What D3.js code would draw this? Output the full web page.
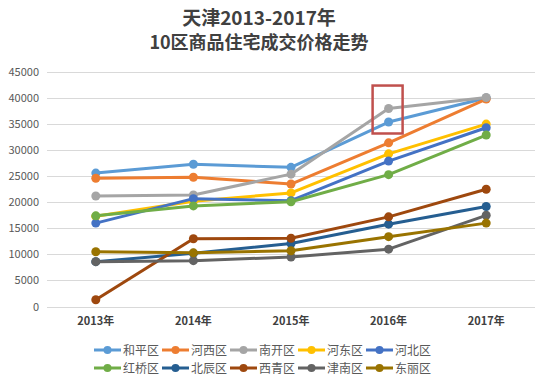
<!DOCTYPE html>
<html>
<head>
<meta charset="utf-8">
<script src="https://cdn.jsdelivr.net/npm/d3@7"></script>
<style>
  body { margin: 0; background: #fff; }
  text { font-family: "Noto Sans CJK SC", "Noto Sans", sans-serif; }
</style>
</head>
<body>
<div class="board"></div>
<script>
var W = 550, H = 386
var margin = { top: 72, right: 15, bottom: 80, left: 47 }

var years = ["2013年", "2014年", "2015年", "2016年", "2017年"]
var districts = ["和平区", "河西区", "南开区", "河东区", "河北区",
                 "红桥区", "北辰区", "西青区", "津南区", "东丽区"]
var colors = ["#5B9BD5", "#ED7D31", "#A5A5A5", "#FFC000", "#4472C4",
              "#70AD47", "#255E91", "#9E480E", "#636363", "#997300"]

var heping  = [25600, 27300, 26700, 35400, 40000]
var hexi    = [24600, 24800, 23500, 31400, 39800]
var nankai  = [21200, 21400, 25400, 38000, 40100]
var hedong  = [17300, 20200, 21800, 29300, 35000]
var hebei   = [16000, 20700, 20300, 27900, 34300]
var hongqiao = [17400, 19300, 20100, 25300, 32900]
var beichen = [8600, 10200, 12100, 15800, 19200]
var xiqing  = [1300, 13000, 13100, 17200, 22500]
var jinnan  = [8600, 8800, 9500, 11000, 17500]
var dongli  = [10500, 10300, 10700, 13400, 16000]

var series = [heping, hexi, nankai, hedong, hebei, hongqiao, beichen, xiqing, jinnan, dongli]
var yTicks = d3.range(0, 45001, 5000)

var svg = d3.select(".board").append("svg")
    .attr("width", W)
    .attr("height", H)

svg.append("rect").attr("width", W).attr("height", H).attr("fill", "#fff")

var x = d3.scalePoint()
    .domain(years)
    .range([margin.left, W - margin.right])
    .padding(0.5)

var y = d3.scaleLinear()
    .domain([0, 45000])
    .range([306.5, margin.top])

// title, two lines
svg.selectAll(".title")
    .data(["天津2013-2017年", "10区商品住宅成交价格走势"])
    .enter()
    .append("text")
    .classed("title", true)
    .attr("x", 259)
    .attr("y", (d, i) => 25 + i * 24)
    .attr("text-anchor", "middle")
    .attr("fill", "#404040")
    .attr("font-size", (d, i) => i ? 18 : 19)
    .attr("font-weight", "bold")
    .text(d => d)

// grid
svg.append("g").selectAll("line")
    .data(yTicks)
    .enter()
    .append("line")
    .attr("x1", margin.left)
    .attr("x2", W - margin.right)
    .attr("y1", d => Math.round(y(d)) + 0.5)
    .attr("y2", d => Math.round(y(d)) + 0.5)
    .attr("stroke", "#d9d9d9")
    .attr("stroke-width", 1)

svg.append("g").selectAll("text")
    .data(yTicks)
    .enter()
    .append("text")
    .attr("x", 39)
    .attr("y", d => y(d) + 4)
    .attr("text-anchor", "end")
    .attr("font-size", 11)
    .attr("fill", "#595959")
    .text(d => d)

svg.append("g").selectAll("text")
    .data(years)
    .enter()
    .append("text")
    .attr("x", d => x(d))
    .attr("y", 325)
    .attr("text-anchor", "middle")
    .attr("font-size", 11)
    .attr("font-weight", "bold")
    .attr("fill", "#404040")
    .text(d => d)

// lines
var line = d3.line()
    .x((d, i) => x(years[i]))
    .y(d => y(d))

series.forEach((s, k) => {
    var g = svg.append("g")
    g.append("path")
        .datum(s)
        .attr("d", line)
        .attr("fill", "none")
        .attr("stroke", colors[k])
        .attr("stroke-width", 3)
        .attr("stroke-linejoin", "round")
    g.selectAll("circle")
        .data(s)
        .enter()
        .append("circle")
        .attr("cx", (d, i) => x(years[i]))
        .attr("cy", d => y(d))
        .attr("r", 4.5)
        .attr("fill", colors[k])
})

// highlight box around 2016
svg.append("rect")
    .attr("x", x("2016年") - 16)
    .attr("y", y(42400))
    .attr("width", 30)
    .attr("height", y(33200) - y(42400))
    .attr("fill", "none")
    .attr("stroke", "#C0504D")
    .attr("stroke-width", 2.5)

// legend
var legend = svg.append("g")
districts.forEach((name, k) => {
    var lx = 94 + (k % 5) * 68
    var ly = k < 5 ? 350 : 368
    legend.append("line")
        .attr("x1", lx).attr("x2", lx + 27)
        .attr("y1", ly).attr("y2", ly)
        .attr("stroke", colors[k])
        .attr("stroke-width", 3)
    legend.append("circle")
        .attr("cx", lx + 13.5).attr("cy", ly)
        .attr("r", 4)
        .attr("fill", colors[k])
    legend.append("text")
        .attr("x", lx + 29)
        .attr("y", ly + 4.5)
        .attr("font-size", 12)
        .attr("fill", "#595959")
        .text(name)
})
</script>
</body>
</html>
